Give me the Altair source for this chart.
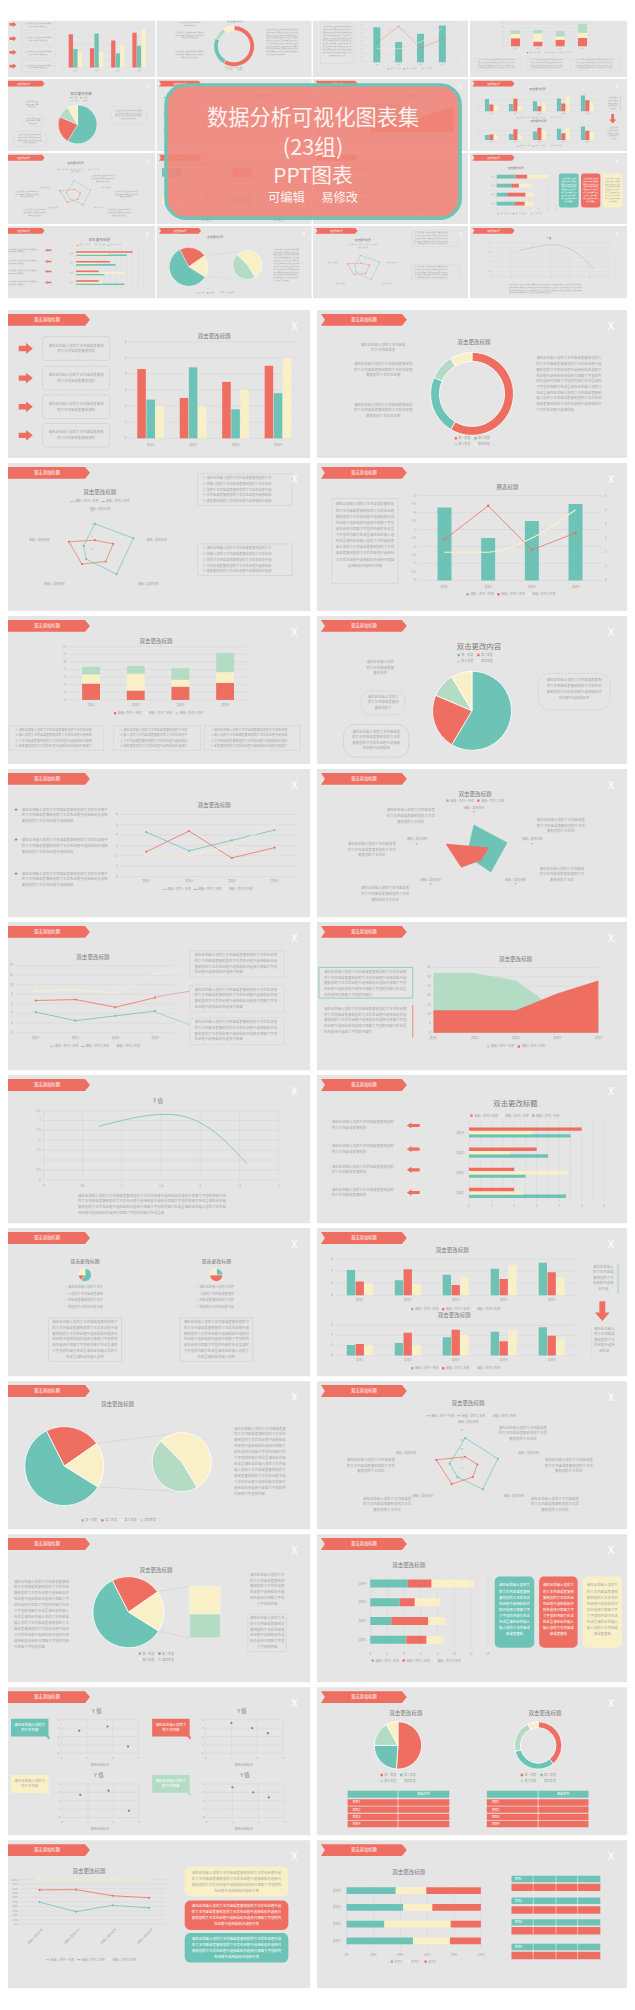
import json
import math

import altair as alt
import pandas as pd

# ---------------- data ----------------
SERIES = ["系列1", "系列2", "系列3"]
LEGEND = ["请输入系列一名称", "请输入系列二名称", "请输入系列三名称"]
CATS4 = ["类别1", "类别2", "类别3", "类别4"]
CATS5 = ["类别1", "类别2", "类别3", "类别4", "类别5"]
S1 = [4.3, 2.5, 3.5, 4.5]
S2 = [2.4, 4.4, 1.8, 2.8]
S3 = [2.0, 2.0, 3.0, 5.0]
QUARTERS = ["第一季度", "第二季度", "第三季度", "第四季度"]
PIE_V = [8.2, 3.2, 1.4, 1.2]
OTHER = "其他"
AREA_1 = [32, 32, 28, 12, 15]
AREA_2 = [12, 12, 12, 21, 28]
SC_X = [0.7, 1.8, 2.6]
SC_Y = [2.7, 3.2, 0.8]
SC2_X = [1.0, 1.8, 2.4]
SC2_Y = [3.6, 3.0, 2.4]
RADAR_AX = ["类别1", "类别2", "类别3", "类别4", "类别5"]
RADAR_A1 = [4.0, 5.5, 5.0, 2.0, 1.6]
RADAR_A2 = [1.4, 2.6, 2.5, 3.0, 3.7]
RADAR_B1 = [4.0, 4.5, 3.7, 1.0, 0.8]
RADAR_B2 = [0.8, 2.0, 1.5, 2.8, 3.8]
RADAR_C1 = [32, 32, 28, 12, 15]
RADAR_C2 = [12, 12, 12, 21, 28]
RADAR_C3 = [18, 24, 20, 30, 20]
DB1 = [[4.2, 2.5, 3.4, 4.4, 5.4], [2.3, 4.3, 1.7, 2.7, 3.8], [2.0, 1.9, 3.0, 5.0, 3.0]]
DB2 = [[2.1, 2.5, 3.6, 4.7, 5.6], [2.3, 4.5, 5.1, 2.8, 3.9], [2.1, 2.1, 4.1, 5.0, 3.2]]
MINI_LBL = ["部分A", "部分B", "部分C"]
MINI1 = [61, 14, 25]
MINI2 = [25, 50, 25]
PIE20 = [51, 24, 17, 8]
DONUT20 = [39, 32, 22, 7]
ROWS_TBL = ["项目1", "项目2", "项目3", "项目4"]

# ---------------- styles ----------------
FONT = "Noto Sans CJK SC"
TEAL = "#6dc3b6"
SALMON = "#ee6e62"
CREAM = "#faf0c8"
MINT = "#b4dcc4"
BG = "#e5e5e5"
TXT = "#a8a8a8"
DARK = "#7a7a7a"
GRID = "#d5d5d5"
WHITE = "#ffffff"
PH = "请在此处输入您的文本内容或者复制您的文本后在此框中选择粘贴并选择只保留文字您的内容打在这里"

RIB = "M-7.25,-1L6.42,-1L7.25,0L6.42,1L-7.25,1L-6.58,0Z"
ARROW_R = "M-1.3,-0.5L0.05,-0.5L0.05,-1L1.3,0L0.05,1L0.05,0.5L-1.3,0.5Z"
ARROW_L = "M2.1,-0.5L-0.6,-0.5L-0.6,-1L-2.1,0L-0.6,1L-0.6,0.5L2.1,0.5Z"
ARROW_D = "M-0.3,-1L0.3,-1L0.3,0.15L0.75,0.15L0,1L-0.75,0.15L-0.3,0.15Z"
TRI = "M-1,-1L1,-1L1,1Z"


def js(a):
    return json.dumps(a, ensure_ascii=False)


def fmt(v):
    return "%g" % v


def frange(a, b, s):
    n = int(round((b - a) / s))
    return [round(a + i * s, 6) for i in range(n + 1)]


class Frame:
    def __init__(self, ox, oy, sx=1.0, sy=1.0):
        self.ox, self.oy, self.sx, self.sy = ox, oy, sx, sy
        self.k = (sx + sy) / 2

    def X(self, x):
        return self.ox + x * self.sx

    def Y(self, y):
        return self.oy + y * self.sy


def lin(dom, a, b):
    return alt.Scale(domain=list(dom), range=[a, b], zero=False, nice=False)


def SX(f):
    return lin([0, 314], f.X(0), f.X(314))


def SY(f):
    return lin([0, 150], f.Y(0), f.Y(150))


def _groups(items):
    g = {}
    for it in items:
        g.setdefault(it["key"], []).append({k: v for k, v in it.items() if k != "key"})
    return g


class B:
    def __init__(self, f):
        self.f = f
        self.rects, self.rules, self.syms, self.txt, self.data = [], [], [], [], []

    def rect(self, x, y, x2, y2, fill="transparent", stroke="transparent", sw=0.5, dash=None, cr=0, op=1.0):
        self.rects.append(dict(x=x, y=y, x2=x2, y2=y2, fill=fill, stroke=stroke,
                               key=(cr, tuple(dash) if dash else (), sw, op)))

    def rule(self, x, y, x2, y2, col=GRID, sw=0.5, dash=None):
        self.rules.append(dict(x=x, y=y, x2=x2, y2=y2, col=col, key=(sw, tuple(dash) if dash else ())))

    def sym(self, x, y, shape, r, col):
        self.syms.append(dict(x=x, y=y, sz=(2 * r * self.f.k) ** 2, col=col, key=shape))

    def text(self, x, y, t, fs=3.6, col=TXT, align="left", weight="normal", angle=0):
        self.txt.append(dict(x=x, y=y, t=t, fs=fs * self.f.k, col=col, key=(align, weight, angle)))

    def build(self):
        f = self.f
        out = []
        xs, ys = SX(f), SY(f)
        for (cr, dash, sw, op), rs in _groups(self.rects).items():
            kw = dict(strokeWidth=sw * f.k, clip=True, fillOpacity=op)
            if cr:
                kw["cornerRadius"] = cr * f.k
            if dash:
                kw["strokeDash"] = [d * f.k for d in dash]
            out.append(alt.Chart(pd.DataFrame(rs)).mark_rect(**kw).encode(
                x=alt.X("x:Q", scale=xs, axis=None), x2="x2:Q",
                y=alt.Y("y:Q", scale=ys, axis=None), y2="y2:Q",
                fill=alt.Fill("fill:N", scale=None), stroke=alt.Stroke("stroke:N", scale=None)))
        for (sw, dash), rs in _groups(self.rules).items():
            kw = dict(strokeWidth=sw * f.k, clip=True)
            if dash:
                kw["strokeDash"] = [d * f.k for d in dash]
            out.append(alt.Chart(pd.DataFrame(rs)).mark_rule(**kw).encode(
                x=alt.X("x:Q", scale=xs, axis=None), x2="x2:Q",
                y=alt.Y("y:Q", scale=ys, axis=None), y2="y2:Q",
                color=alt.Color("col:N", scale=None)))
        out += self.data
        for shape, rs in _groups(self.syms).items():
            out.append(alt.Chart(pd.DataFrame(rs)).mark_point(
                shape=shape, filled=True, opacity=1, strokeWidth=0, clip=True).encode(
                x=alt.X("x:Q", scale=xs, axis=None), y=alt.Y("y:Q", scale=ys, axis=None),
                size=alt.Size("sz:Q", scale=None), color=alt.Color("col:N", scale=None)))
        for (align, weight, angle), rs in _groups(self.txt).items():
            kw = dict(align=align, baseline="middle", font=FONT, fontWeight=weight, clip=True)
            if angle:
                kw["angle"] = angle
            out.append(alt.Chart(pd.DataFrame(rs)).mark_text(**kw).encode(
                x=alt.X("x:Q", scale=xs, axis=None), y=alt.Y("y:Q", scale=ys, axis=None),
                text="t:N", size=alt.Size("fs:Q", scale=None), color=alt.Color("col:N", scale=None)))
        return out


# ---------------- chart helpers (pixel ranges inside a slide) ----------------
def hgrid(f, ticks, dom, x0, x1, yb, yt, col=GRID, sw=0.5):
    return alt.Chart(pd.DataFrame({"v": ticks})).mark_rule(color=col, strokeWidth=sw * f.k, clip=True).encode(
        y=alt.Y("v:Q", scale=lin(dom, f.Y(yb), f.Y(yt)), axis=None),
        x=alt.value(f.X(x0)), x2=alt.value(f.X(x1)))


def vgrid(f, ticks, dom, xl, xr, ya, yb, col=GRID, sw=0.5):
    return alt.Chart(pd.DataFrame({"v": ticks})).mark_rule(color=col, strokeWidth=sw * f.k, clip=True).encode(
        x=alt.X("v:Q", scale=lin(dom, f.X(xl), f.X(xr)), axis=None),
        y=alt.value(f.Y(ya)), y2=alt.value(f.Y(yb)))


def ylabels(f, ticks, labels, dom, x, yb, yt, fs=3.0, align="right"):
    return alt.Chart(pd.DataFrame({"v": ticks, "t": labels})).mark_text(
        align=align, baseline="middle", fontSize=fs * f.k, color=TXT, font=FONT, clip=True).encode(
        y=alt.Y("v:Q", scale=lin(dom, f.Y(yb), f.Y(yt)), axis=None), x=alt.value(f.X(x)), text="t:N")


def xlabels(f, ticks, labels, dom, xl, xr, y, fs=3.0):
    return alt.Chart(pd.DataFrame({"v": ticks, "t": labels})).mark_text(
        align="center", baseline="middle", fontSize=fs * f.k, color=TXT, font=FONT, clip=True).encode(
        x=alt.X("v:Q", scale=lin(dom, f.X(xl), f.X(xr)), axis=None), y=alt.value(f.Y(y)), text="t:N")


def band_text(f, cats, x0, x1, pi, po, y, fs=3.1):
    return alt.Chart(pd.DataFrame({"cat": cats})).mark_text(
        align="center", baseline="middle", fontSize=fs * f.k, color=TXT, font=FONT, clip=True).encode(
        x=alt.X("cat:N", scale=alt.Scale(domain=cats, range=[f.X(x0), f.X(x1)], paddingInner=pi, paddingOuter=po),
                bandPosition=0.5, axis=None),
        y=alt.value(f.Y(y)), text="cat:N")


def band_text_y(f, dom, y0, y1, pi, po, x, align="right", fs=3.1):
    return alt.Chart(pd.DataFrame({"cat": dom})).mark_text(
        align=align, baseline="middle", fontSize=fs * f.k, color=TXT, font=FONT, clip=True).encode(
        y=alt.Y("cat:N", scale=alt.Scale(domain=dom, range=[f.Y(y0), f.Y(y1)], paddingInner=pi, paddingOuter=po),
                bandPosition=0.5, axis=None),
        x=alt.value(f.X(x)), text="cat:N")


def pt_text(f, cats, labels, xa, xb, y, fs=3.1, align="center", angle=0):
    kw = dict(align=align, baseline="middle", fontSize=fs * f.k, color=TXT, font=FONT, clip=True)
    if angle:
        kw["angle"] = angle
    return alt.Chart(pd.DataFrame({"cat": cats, "t": labels})).mark_text(**kw).encode(
        x=alt.X("cat:N", scale=alt.Scale(type="point", domain=cats, range=[f.X(xa), f.X(xb)], padding=0), axis=None),
        y=alt.value(f.Y(y)), text="t:N")


SORDER = f"indexof({json.dumps(SERIES, ensure_ascii=False)}, datum.s)"


def vbars(f, cats, vals_list, colors, x0, x1, pi, po, yb, yt, dom, series=None, stack=None, off_pi=0.06):
    series = series or SERIES[:len(vals_list)]
    rows = [dict(cat=c, s=s, v=v) for s, vals in zip(series, vals_list) for c, v in zip(cats, vals)]
    enc = dict(
        x=alt.X("cat:N", scale=alt.Scale(domain=cats, range=[f.X(x0), f.X(x1)], paddingInner=pi, paddingOuter=po),
                axis=None),
        y=alt.Y("v:Q", scale=lin(dom, f.Y(yb), f.Y(yt)), axis=None, stack=stack),
        color=alt.Color("s:N", scale=alt.Scale(domain=series, range=colors), legend=None),
        order=alt.Order("o:Q"))
    if stack is None and len(series) > 1:
        enc["xOffset"] = alt.XOffset("s:N", scale=alt.Scale(domain=series, paddingInner=off_pi))
    return alt.Chart(pd.DataFrame(rows)).transform_calculate(o=SORDER).mark_bar(clip=True).encode(**enc)


def hbars(f, cats, dom_cats, vals_list, colors, y0, y1, pi, po, x0, x1, dom, stack=None, off_dom=None, off_pi=0.0):
    series = SERIES[:len(vals_list)]
    rows = [dict(cat=c, s=s, v=v) for s, vals in zip(series, vals_list) for c, v in zip(cats, vals)]
    enc = dict(
        y=alt.Y("cat:N", scale=alt.Scale(domain=dom_cats, range=[f.Y(y0), f.Y(y1)], paddingInner=pi,
                                         paddingOuter=po), axis=None),
        x=alt.X("v:Q", scale=lin(dom, f.X(x0), f.X(x1)), axis=None, stack=stack),
        color=alt.Color("s:N", scale=alt.Scale(domain=series, range=colors), legend=None),
        order=alt.Order("o:Q"))
    if off_dom:
        enc["yOffset"] = alt.YOffset("s:N", scale=alt.Scale(domain=off_dom, paddingInner=off_pi))
    return alt.Chart(pd.DataFrame(rows)).transform_calculate(o=SORDER).mark_bar(clip=True).encode(**enc)


def lines(f, cats, vals_list, colors, xa, xb, yb, yt, dom, series=None, stack=None, interp="linear", sw=0.8, pt=3.0):
    series = series or SERIES[:len(vals_list)]
    rows = [dict(cat=c, s=s, v=v) for s, vals in zip(series, vals_list) for c, v in zip(cats, vals)]
    kw = dict(strokeWidth=sw * f.k, interpolate=interp, clip=True)
    if pt:
        kw["point"] = alt.OverlayMarkDef(filled=True, size=(pt * f.k) ** 2, opacity=1)
    enc = dict(
        x=alt.X("cat:N", scale=alt.Scale(type="point", domain=cats, range=[f.X(xa), f.X(xb)], padding=0), axis=None),
        color=alt.Color("s:N", scale=alt.Scale(domain=series, range=colors), legend=None))
    if stack:
        enc["y"] = alt.Y("v:Q", scale=lin(dom, f.Y(yb), f.Y(yt)), axis=None, stack=stack)
        enc["order"] = alt.Order("o:Q")
    else:
        enc["y"] = alt.Y("v:Q", scale=lin(dom, f.Y(yb), f.Y(yt)), axis=None)
    return alt.Chart(pd.DataFrame(rows)).transform_calculate(o=SORDER).mark_line(**kw).encode(**enc)


def area(f, cats, vals, col, xa, xb, yb, yt, dom):
    return alt.Chart(pd.DataFrame({"cat": cats, "v": vals})).mark_area(color=col, opacity=1, clip=True).encode(
        x=alt.X("cat:N", scale=alt.Scale(type="point", domain=cats, range=[f.X(xa), f.X(xb)], padding=0), axis=None),
        y=alt.Y("v:Q", scale=lin(dom, f.Y(yb), f.Y(yt)), axis=None))


def pie(f, cx, cy, r, vals, labels, colors, inner=0, start_deg=0, sw=0.8):
    a0 = math.radians(start_deg)
    kw = dict(outerRadius=r * f.k, stroke=WHITE, strokeWidth=sw * f.k, clip=True)
    if inner:
        kw["innerRadius"] = inner * f.k
    return alt.Chart(pd.DataFrame({"lab": labels, "v": vals})).transform_calculate(
        o=f"indexof({js(labels)}, datum.lab)"
    ).mark_arc(**kw).encode(
        theta=alt.Theta("v:Q", stack=True, scale=alt.Scale(range=[a0, a0 + 2 * math.pi])),
        color=alt.Color("lab:N", scale=alt.Scale(domain=labels, range=colors), legend=None),
        order=alt.Order("o:Q"),
        x=alt.value(f.X(cx)), y=alt.value(f.Y(cy)))


def radar(f, cx, cy, R, hs, vmax, axes, vals, col, fill=None, sw=0.7, points=False):
    n = len(axes)
    base = (alt.Chart(pd.DataFrame({"axis": axes, "v": vals}))
            .transform_calculate(i=f"indexof({js(axes)}, datum.axis)")
            .transform_calculate(a=f"datum.i * 2 * PI / {n}")
            .transform_calculate(px="datum.v * sin(datum.a)")
            .transform_calculate(py="datum.v * cos(datum.a)"))
    xsc = lin([-vmax, vmax], f.X(cx) - R * hs * f.sx, f.X(cx) + R * hs * f.sx)
    ysc = lin([-vmax, vmax], f.Y(cy) + R * f.sy, f.Y(cy) - R * f.sy)
    kw = dict(interpolate="linear-closed", color=col, strokeWidth=sw * f.k, clip=True)
    if fill:
        kw["fill"] = fill
    out = [base.mark_line(**kw).encode(
        x=alt.X("px:Q", scale=xsc, axis=None), y=alt.Y("py:Q", scale=ysc, axis=None), order=alt.Order("i:Q"))]
    if points:
        out.append(base.mark_circle(color=col, size=(2.2 * f.k) ** 2, opacity=1, clip=True).encode(
            x=alt.X("px:Q", scale=xsc, axis=None), y=alt.Y("py:Q", scale=ysc, axis=None)))
    return out


def scatter(f, xs, ys, x0, x1, yb, yt, xdom, ydom, col="#7d7d7d", d=2.2):
    return alt.Chart(pd.DataFrame({"x": xs, "y": ys})).mark_circle(
        color=col, size=(d * f.k) ** 2, opacity=1, clip=True).encode(
        x=alt.X("x:Q", scale=lin(xdom, f.X(x0), f.X(x1)), axis=None),
        y=alt.Y("y:Q", scale=lin(ydom, f.Y(yb), f.Y(yt)), axis=None))


def curve(f, xs, ys, x0, x1, yb, yt, xdom, ydom, col=TEAL, sw=0.8):
    return alt.Chart(pd.DataFrame({"x": xs, "y": ys})).mark_line(
        color=col, strokeWidth=sw * f.k, interpolate="natural", clip=True).encode(
        x=alt.X("x:Q", scale=lin(xdom, f.X(x0), f.X(x1)), axis=None),
        y=alt.Y("y:Q", scale=lin(ydom, f.Y(yb), f.Y(yt)), axis=None))


# ---------------- text helpers ----------------
def para(b, x, y, w, n, lh=5.6, fs=3.5, col=TXT, align="left", last=0.6):
    per = max(2, int(w / fs))
    src = PH * 8
    for j in range(n):
        k = per if (j < n - 1 or n == 1) else max(2, int(per * last))
        st = (j * 7) % len(PH)
        b.text(x, y + j * lh, src[st:st + k], fs, col, align)


def legend(b, cx, y, items, fs=3.0, gap=4.5, kind="sq"):
    ws = [4.0 + len(lab) * fs * 0.95 for _, lab in items]
    total = sum(ws) + gap * (len(items) - 1)
    x = cx - total / 2
    for (col, lab), w in zip(items, ws):
        if kind == "sq":
            b.rect(x, y - 1.2, x + 2.4, y + 1.2, fill=col)
        else:
            b.rule(x - 0.6, y, x + 3.0, y, col, 0.7)
        b.text(x + 3.8, y, lab, fs, TXT)
        x += w + gap


def common(b):
    b.sym(47.5, 10, RIB, 6, SALMON)
    b.text(47.5, 10.3, "双击添加标题", 4.4, WHITE, "center")
    b.text(298, 17.5, "X", 11, WHITE, "center")


def title(b, x, y, t="双击更改标题", fs=5.6):
    b.text(x, y, t, fs, DARK, "center")


# ---------------- slides ----------------
def s1(b):
    f = b.f
    common(b)
    for yc in (39, 69, 98, 127):
        b.sym(26, yc, ARROW_R, 5.5, SALMON)
        b.rect(43, yc - 12, 111, yc + 12, stroke="#b0b0b0", sw=0.5, dash=[1.2, 1], cr=3)
        para(b, 77, yc - 3, 56, 2, lh=6, align="center", last=0.7)
    title(b, 217, 26)
    T = frange(0, 6, 1)
    b.data.append(hgrid(f, T, [0, 6], 130, 302, 130, 32))
    b.data.append(ylabels(f, T, [fmt(t) for t in T], [0, 6], 128, 130, 32))
    b.data.append(vbars(f, CATS4, [S1, S2, S3], [SALMON, TEAL, CREAM], 131, 303, 0.37, 0.185, 130, 32, [0, 6]))
    b.data.append(band_text(f, CATS4, 131, 303, 0.37, 0.185, 137))


def s2(b):
    f = b.f
    common(b)
    title(b, 159, 32)
    b.data.append(pie(f, 157, 85, 42, PIE_V, QUARTERS, [SALMON, TEAL, MINT, CREAM], inner=33))
    para(b, 67, 35, 48, 2, align="center")
    para(b, 67, 55, 62, 3, align="center")
    para(b, 67, 96, 62, 3, align="center")
    para(b, 222, 49, 68, 10, lh=5.8)
    legend(b, 157, 130, [(SALMON, QUARTERS[0]), (TEAL, QUARTERS[1])])
    legend(b, 157, 136, [(MINT, QUARTERS[2]), (CREAM, QUARTERS[3])])


def s3(b):
    f = b.f
    common(b)
    title(b, 101, 29)
    legend(b, 101, 39, [(TEAL, LEGEND[0]), (SALMON, LEGEND[1])], kind="line")
    b.data += radar(f, 96, 87, 38, 1.18, 6, RADAR_AX, RADAR_A1, TEAL, points=True)
    b.data += radar(f, 96, 87, 38, 1.18, 6, RADAR_AX, RADAR_A2, SALMON, points=True)
    for x, y, al in ((101, 47, "center"), (148, 78, "left"), (150, 123, "center"), (55, 123, "center"),
                     (50, 78, "right")):
        b.text(x, y, "请输入类别名称", 3.0, TXT, al)
    for v in (0, 2, 4, 6):
        b.text(94, 87 - v / 6 * 38, fmt(v), 2.8, TXT, "right")
    for y0 in (11, 82):
        b.rect(200, y0, 296, y0 + 32, stroke="#c9c9c9", sw=0.5)
        for j, m in enumerate("①②③④⑤"):
            b.text(205, y0 + 4.5 + j * 5.8, m + " " + PH[j * 3:j * 3 + 20], 3.3, TXT)


def s4(b):
    f = b.f
    common(b)
    title(b, 193, 24, "图表标题")
    b.rect(15, 36, 82, 122, stroke="#c9c9c9", sw=0.5)
    para(b, 48.5, 42, 60, 11, lh=6.2, align="center")
    T = frange(0, 5, 1)
    b.data.append(hgrid(f, T, [0, 5], 102, 289, 119, 33))
    TL = frange(0, 5, 0.5)
    b.data.append(ylabels(f, TL, [fmt(t) for t in TL], [0, 5], 100, 119, 33))
    TR = frange(0, 6, 1)
    b.data.append(ylabels(f, TR, [fmt(t) for t in TR], [0, 6], 291.5, 119, 33, align="left"))
    b.data.append(vbars(f, CATS4, [S1], [TEAL], 107, 284, 0.68, 0.34, 119, 33, [0, 5], series=[SERIES[0]]))
    b.data.append(lines(f, CATS4, [S2], [SALMON], 129, 262, 119, 33, [0, 5], series=[SERIES[1]], pt=2.6))
    b.data.append(lines(f, CATS4, [S3], [CREAM], 129, 262, 119, 33, [0, 6], series=[SERIES[2]],
                        interp="monotone", pt=0, sw=1.1))
    b.data.append(band_text(f, CATS4, 107, 284, 0.68, 0.34, 125.5))
    legend(b, 196, 133, [(TEAL, LEGEND[0]), (SALMON, LEGEND[1]), (CREAM, LEGEND[2])])


def s5(b):
    f = b.f
    common(b)
    title(b, 158, 25)
    T = frange(0, 14, 2)
    b.data.append(hgrid(f, T, [0, 14], 69, 250, 85, 31))
    b.data.append(ylabels(f, T, [fmt(t) for t in T], [0, 14], 67, 85, 31))
    b.data.append(vbars(f, CATS4, [S1, S2, S3], [SALMON, CREAM, MINT], 69.5, 250.5, 0.6, 0.3, 85, 31, [0, 14],
                        stack="zero"))
    b.data.append(band_text(f, CATS4, 69.5, 250.5, 0.6, 0.3, 90.5))
    legend(b, 160, 98.5, [(SALMON, LEGEND[0]), (CREAM, LEGEND[1]), (MINT, LEGEND[2])])
    for x0, x1 in ((9, 105), (115, 203), (207, 304)):
        b.rect(x0, 111, x1, 136, stroke="#cfcfcf", sw=0.5)
        for j, m in enumerate("①②③④"):
            b.text(x0 + 6, 115 + j * 5.6, m + " " + PH[j * 4:j * 4 + int((x1 - x0 - 16) / 3.3)], 3.1, TXT)


def s6(b):
    f = b.f
    common(b)
    title(b, 164, 31, "双击更改内容", 7.5)
    legend(b, 160, 39.5, [(TEAL, QUARTERS[0]), (SALMON, QUARTERS[1])])
    legend(b, 160, 46, [(MINT, QUARTERS[2]), (CREAM, QUARTERS[3])])
    b.data.append(pie(f, 157, 96, 40, PIE_V, QUARTERS, [TEAL, SALMON, MINT, CREAM], sw=0.8))
    b.rect(45, 76, 89, 100, stroke="#b9b9b9", sw=0.5, dash=[1, 0.8], cr=9)
    para(b, 67, 82, 34, 3, lh=5.6, align="center")
    b.rect(27, 110, 93, 143, stroke="#e0948b", sw=0.5, dash=[1, 0.8], cr=12)
    para(b, 60, 117, 50, 4, lh=5.6, align="center")
    b.rect(224, 58, 297, 95, stroke="#b9b9b9", sw=0.5, dash=[1, 0.8], cr=12)
    para(b, 260.5, 65, 56, 4, lh=6, align="center")
    para(b, 64, 47, 30, 3, lh=5.5, align="center")


def s7(b):
    f = b.f
    common(b)
    for yy in (41, 72, 106):
        b.text(16, yy, "◆", 3.0, "#8a8a8a", "center")
        para(b, 22, yy, 90, 3, lh=5.8)
    title(b, 217, 36)
    T = frange(0, 6, 1)
    b.data.append(hgrid(f, T, [0, 6], 121, 300, 109, 46))
    b.data.append(ylabels(f, T, [fmt(t) for t in T], [0, 6], 119, 109, 46))
    b.data.append(lines(f, CATS4, [S1, S2, S3], [TEAL, SALMON, CREAM], 148, 278, 109, 46, [0, 6], pt=2.2))
    b.data.append(pt_text(f, CATS4, CATS4, 148, 278, 113.5))
    legend(b, 210, 122, [(TEAL, LEGEND[0]), (SALMON, LEGEND[1]), (CREAM, LEGEND[2])], kind="line")


def s8(b):
    f = b.f
    common(b)
    title(b, 160, 25)
    legend(b, 160, 32, [(TEAL, LEGEND[0]), (SALMON, LEGEND[1])])
    b.data += radar(f, 159, 84, 34, 1.15, 5, RADAR_AX, RADAR_B1, TEAL, fill=TEAL)
    b.data += radar(f, 159, 84, 34, 1.15, 5, RADAR_AX, RADAR_B2, SALMON, fill=SALMON)
    for x, y in ((159, 39), (218, 71), (201, 112), (115, 112), (101, 71)):
        b.text(x, y, "请输入类别名称", 3.0, TXT, "center")
        b.text(x, y + 4.5, "■", 1.8, "#b0b0b0", "center")
    para(b, 95, 42, 50, 3, align="center")
    para(b, 55.5, 76, 50, 3, align="center")
    para(b, 69, 121, 50, 3, align="center")
    para(b, 247, 52, 50, 3, align="center")
    para(b, 248, 101, 48, 3, align="center")


def s9(b):
    f = b.f
    common(b)
    title(b, 94, 35)
    T = frange(0, 14, 2)
    b.data.append(hgrid(f, T, [0, 14], 16, 176, 112, 44))
    b.data.append(ylabels(f, T, [fmt(t) for t in T], [0, 14], 13, 112, 44))
    b.data.append(lines(f, CATS4, [S1, S2, S3], [TEAL, SALMON, CREAM], 36, 157, 112, 44, [0, 14],
                        stack="zero", pt=2.2))
    b.rule(157, 53, 192, 46, CREAM, 0.5)
    b.rule(157, 76, 192, 70, SALMON, 0.5)
    b.rule(157, 91, 192, 104, TEAL, 0.5)
    b.data.append(pt_text(f, CATS4, CATS4, 36, 157, 117))
    legend(b, 96, 126, [(TEAL, LEGEND[0]), (SALMON, LEGEND[1]), (CREAM, LEGEND[2])], kind="line")
    for y0 in (29, 64, 97):
        b.rect(192, y0, 288, y0 + 27, stroke="#d0d0d0", sw=0.5)
        para(b, 197, y0 + 4.5, 86, 4, lh=5.8)


def s10(b):
    f = b.f
    common(b)
    title(b, 201, 37)
    b.rect(2, 46, 97, 77, stroke=TEAL, sw=0.7)
    para(b, 7, 51, 86, 5, lh=5.6)
    b.rule(97, 84, 97, 117, SALMON, 0.8)
    para(b, 7, 88, 86, 5, lh=5.8)
    T = frange(0, 35, 5)
    b.data.append(hgrid(f, T, [0, 35], 118, 285, 112, 46))
    b.data.append(ylabels(f, T, [fmt(t) for t in T], [0, 35], 115, 112, 46))
    b.data.append(area(f, CATS5, AREA_1, MINT, 118, 285, 112, 46, [0, 35]))
    b.data.append(area(f, CATS5, AREA_2, SALMON, 118, 285, 112, 46, [0, 35]))
    b.data.append(pt_text(f, CATS5, CATS5, 118, 285, 117))
    legend(b, 201, 126, [(MINT, LEGEND[0]), (SALMON, LEGEND[1])])


def s11(b):
    f = b.f
    common(b)
    title(b, 160, 26, "Y 值")
    XT = frange(0, 3, 0.5)
    YT = frange(0, 3.5, 0.5)
    b.data.append(vgrid(f, XT, [0, 3], 44, 282, 36, 106))
    b.data.append(hgrid(f, YT, [0, 3.5], 44, 282, 106, 36))
    b.data.append(ylabels(f, YT, [fmt(t) for t in YT], [0, 3.5], 41, 106, 36))
    b.data.append(xlabels(f, XT, [fmt(t) for t in XT], [0, 3], 44, 282, 112))
    b.data.append(curve(f, SC_X, SC_Y, 44, 282, 106, 36, [0, 3], [0, 3.5]))
    para(b, 79, 122, 152, 4, lh=6)


def s12(b):
    f = b.f
    common(b)
    title(b, 201, 29, "双击更改标题", 7.5)
    legend(b, 200, 41, [(SALMON, LEGEND[2]), (CREAM, LEGEND[1]), (TEAL, LEGEND[0])])
    XT = frange(0, 6, 1)
    b.data.append(vgrid(f, frange(0, 6, 0.5), [0, 6], 154, 291, 47, 129))
    b.data.append(xlabels(f, XT, [fmt(t) for t in XT], [0, 6], 154, 291, 133))
    rev = CATS4[::-1]
    b.data.append(hbars(f, CATS4, rev, [S1, S2, S3], [TEAL, CREAM, SALMON], 48, 129.5, 0.5, 0.25, 154, 291,
                        [0, 6], off_dom=SERIES[::-1]))
    b.data.append(band_text_y(f, rev, 48, 129.5, 0.5, 0.25, 149))
    for yy in (51, 75, 96, 119):
        b.sym(97.5, yy, ARROW_L, 3.1, SALMON)
        para(b, 15, yy - 3, 66, 2, lh=5.6)


def s13(b):
    f = b.f
    common(b)
    for cx, vals in ((86, MINI1), (219, MINI2)):
        title(b, cx, 33, "双击更改标题", 5)
        b.data.append(pie(f, cx, 47.5, 6.5, vals, MINI_LBL, [TEAL, SALMON, CREAM], sw=0.4))
        for j in range(4):
            b.text(cx - 21, 60 + j * 6.5, "• " + PH[j * 5:j * 5 + 11], 3.2, TXT)
        b.rect(cx - 37, 91, cx + 37, 135, stroke="#c9c9c9", sw=0.5)
        para(b, cx, 95, 68, 7, lh=5.9, align="center")


def s14(b):
    f = b.f
    common(b)
    title(b, 137, 22)
    T = frange(0, 6, 2)
    b.data.append(hgrid(f, T, [0, 6], 19, 262, 68, 31.4))
    b.data.append(ylabels(f, T, [fmt(t) for t in T], [0, 6], 16, 68, 31.4))
    b.data.append(vbars(f, CATS5, DB1, [TEAL, SALMON, CREAM], 19, 262, 0.46, 0.23, 68, 31.4, [0, 6]))
    b.data.append(band_text(f, CATS5, 19, 262, 0.46, 0.23, 73))
    legend(b, 140, 82, [(TEAL, LEGEND[0]), (SALMON, LEGEND[1]), (CREAM, LEGEND[2])])
    title(b, 139, 88)
    b.data.append(hgrid(f, T, [0, 6], 19, 262, 129, 98.4))
    b.data.append(ylabels(f, T, [fmt(t) for t in T], [0, 6], 16, 129, 98.4))
    b.data.append(vbars(f, CATS5, DB2, [TEAL, SALMON, CREAM], 19, 262, 0.46, 0.23, 129, 98.4, [0, 6]))
    b.data.append(band_text(f, CATS5, 19, 262, 0.46, 0.23, 134))
    legend(b, 140, 142, [(TEAL, LEGEND[0]), (SALMON, LEGEND[1]), (CREAM, LEGEND[2])])
    b.rule(305, 36, 305, 66, TEAL, 0.6)
    para(b, 290, 39, 22, 5, lh=5.6, align="center")
    b.sym(289, 84, ARROW_D, 10, SALMON)
    b.rule(278, 99, 278, 129, "#bdbdbd", 0.5, dash=[1, 1])
    para(b, 291, 102, 22, 5, lh=5.6, align="center")


def s15(b):
    f = b.f
    common(b)
    title(b, 119, 23)
    b.rule(98, 63, 184, 52, "#b5b5b5", 0.5, dash=[1.5, 1])
    b.rule(99, 107, 184, 112, "#b5b5b5", 0.5, dash=[1.5, 1])
    b.data.append(pie(f, 65, 86, 40, [PIE_V[1], PIE_V[2] + PIE_V[3], PIE_V[0]], [QUARTERS[1], OTHER, QUARTERS[0]],
                      [SALMON, CREAM, TEAL], start_deg=-27))
    b.data.append(pie(f, 184, 82, 30, PIE_V[2:], QUARTERS[2:], [CREAM, MINT], start_deg=-45))
    para(b, 237, 48, 55, 12, lh=6)
    legend(b, 120, 141, [(TEAL, QUARTERS[0]), (SALMON, QUARTERS[1]), (CREAM, QUARTERS[2]), (MINT, QUARTERS[3])])


def s16(b):
    f = b.f
    common(b)
    title(b, 153, 22)
    legend(b, 156, 35, [(TEAL, LEGEND[0]), (SALMON, LEGEND[1]), (CREAM, LEGEND[2])], kind="line")
    b.data += radar(f, 150, 88, 38, 1.15, 40, RADAR_AX, RADAR_C3, "#efe3b5", sw=0.6)
    b.data += radar(f, 150, 88, 38, 1.15, 40, RADAR_AX, RADAR_C1, TEAL, points=True)
    b.data += radar(f, 150, 88, 38, 1.15, 40, RADAR_AX, RADAR_C2, SALMON, points=True)
    for x, y in ((153, 41), (214, 73), (199, 116), (107, 116), (90, 73)):
        b.text(x, y, "请输入类别名称", 3.0, TXT, "center")
    for v in (0, 10, 20, 30, 40):
        b.text(148, 88 - v / 40 * 38, fmt(v), 2.6, TXT, "right")
    para(b, 208.5, 47, 50, 3, align="center")
    para(b, 255, 80, 50, 3, align="center")
    para(b, 241, 119, 50, 3, align="center")
    para(b, 71, 119, 50, 3, align="center")
    para(b, 54.5, 80, 50, 3, align="center")


def s17(b):
    f = b.f
    common(b)
    title(b, 158, 36)
    para(b, 14, 48, 56, 12, lh=6)
    b.rule(159.5, 58, 192, 53, "#b5b5b5", 0.5, dash=[1.5, 1])
    b.rule(160.5, 98, 192, 105, "#b5b5b5", 0.5, dash=[1.5, 1])
    b.data.append(pie(f, 130, 79, 36, [PIE_V[1], PIE_V[2] + PIE_V[3], PIE_V[0]], [QUARTERS[1], OTHER, QUARTERS[0]],
                      [SALMON, CREAM, TEAL], start_deg=-27))
    lab2 = [QUARTERS[3], QUARTERS[2]]
    b.data.append(alt.Chart(pd.DataFrame({"lab": QUARTERS[2:], "v": PIE_V[2:]})).transform_calculate(
        o=f"indexof({js(lab2)}, datum.lab)", g="'g'"
    ).mark_bar(clip=True, stroke=WHITE, strokeWidth=0.3 * f.k).encode(
        x=alt.X("g:N", scale=alt.Scale(domain=["g"], range=[f.X(192), f.X(223)], paddingInner=0, paddingOuter=0),
                axis=None),
        y=alt.Y("v:Q", stack="zero", scale=lin([0, PIE_V[2] + PIE_V[3]], f.Y(105), f.Y(53)), axis=None),
        color=alt.Color("lab:N", scale=alt.Scale(domain=QUARTERS[2:], range=[CREAM, MINT]), legend=None),
        order=alt.Order("o:Q")))
    legend(b, 158, 121, [(TEAL, QUARTERS[0]), (SALMON, QUARTERS[1])])
    legend(b, 158, 127, [(CREAM, QUARTERS[2]), (MINT, QUARTERS[3])])
    para(b, 270.5, 41, 38, 6, lh=6, align="center")
    b.rect(251, 81, 290, 119, stroke="#cccccc", sw=0.5)
    para(b, 270.5, 85, 36, 6, lh=5.8, align="center")


def s18(b):
    f = b.f
    common(b)
    title(b, 93, 31)
    XT = frange(0, 14, 2)
    b.data.append(vgrid(f, XT, [0, 14], 54, 173, 42, 115))
    b.data.append(xlabels(f, XT, [fmt(t) for t in XT], [0, 14], 54, 173, 121))
    rev = CATS4[::-1]
    b.data.append(hbars(f, CATS4, rev, [S1, S2, S3], [TEAL, SALMON, CREAM], 40.5, 116.5, 0.58, 0.29, 54, 173,
                        [0, 14], stack="zero"))
    b.data.append(band_text_y(f, rev, 40.5, 116.5, 0.58, 0.29, 50))
    legend(b, 100, 128, [(TEAL, LEGEND[0]), (SALMON, LEGEND[1]), (CREAM, LEGEND[2])])
    for x0, x1, col, tc in ((180, 220, TEAL, WHITE), (225, 264, SALMON, WHITE), (269, 309, CREAM, TXT)):
        b.rect(x0, 43, x1, 115, fill=col, cr=5)
        para(b, (x0 + x1) / 2, 52, 32, 9, lh=6.2, col=tc, align="center")


def s19(b):
    f = b.f
    common(b)
    plots = ((62, 140, 67, 33, SC_X, SC_Y, (98, 24), (101, 79)),
             (208, 287, 67, 33, SC2_X, SC2_Y, (245, 24), (247, 79)),
             (63, 141, 132, 98, SC_X, SC_Y, (100, 89), (101, 144)),
             (209, 288, 132, 98, SC2_X, SC2_Y, (248, 89), (247, 144)))
    for x0, x1, yb, yt, xs, ys, tp, ap in plots:
        title(b, tp[0], tp[1], "Y 值", 5.5)
        b.data.append(vgrid(f, frange(0, 3, 1), [0, 3], x0, x1, yt, yb))
        b.data.append(hgrid(f, frange(0, 4, 1), [0, 4], x0, x1, yb, yt))
        YT = frange(0, 4, 1)
        b.data.append(ylabels(f, YT, [fmt(t) for t in YT], [0, 4], x0 - 2, yb, yt, fs=2.8))
        XT = frange(0, 3, 1)
        b.data.append(xlabels(f, XT, [fmt(t) for t in XT], [0, 3], x0, x1, yb + 5, fs=2.8))
        b.data.append(scatter(f, xs, ys, x0, x1, yb, yt, [0, 3], [0, 4]))
        b.text(ap[0], ap[1], "横坐标轴标题", 3.1, TXT, "center")
    for x0, y0, col, tc in ((11, 32, TEAL, WHITE), (154, 32, SALMON, WHITE), (11, 89, CREAM, TXT),
                            (154, 89, MINT, WHITE)):
        b.rect(x0, y0, x0 + 38, y0 + 18, fill=col)
        b.sym(x0 + 37, y0 + 19.6, TRI, 2.0, col)
        para(b, x0 + 19, y0 + 6, 32, 2, lh=5.5, col=tc, align="center")


def s20(b):
    f = b.f
    common(b)
    title(b, 90, 26)
    title(b, 231, 26)
    b.data.append(pie(f, 82, 59, 24, PIE20, QUARTERS, [SALMON, TEAL, MINT, CREAM]))
    b.data.append(pie(f, 224, 59, 24, DONUT20, QUARTERS, [SALMON, TEAL, MINT, CREAM], inner=18))
    for cx in (82, 224):
        legend(b, cx, 89, [(SALMON, QUARTERS[0]), (TEAL, QUARTERS[1])])
        legend(b, cx, 95, [(MINT, QUARTERS[2]), (CREAM, QUARTERS[3])])
    for x0, xm, x1 in ((31, 82, 134), (172, 224, 275)):
        b.rect(x0, 105, x1, 112, fill=TEAL)
        b.text((xm + x1) / 2, 108.5, "数据系列", 3.1, WHITE, "center")
        for j, lab in enumerate(ROWS_TBL):
            y0 = 113.5 + j * 7.3
            b.rect(x0, y0, x1, y0 + 6.5, fill=SALMON)
            b.text(x0 + 5, y0 + 3.25, lab, 3.1, WHITE)
        b.rule(xm, 105, xm, 143, WHITE, 0.6)


def s21(b):
    f = b.f
    common(b)
    title(b, 90, 31)
    T = frange(0, 1, 0.1)
    b.data.append(hgrid(f, T, [0, 1], 20, 168, 85, 40))
    b.data.append(ylabels(f, T, ["%d%%" % round(t * 100) for t in T], [0, 1], 18, 85, 40, fs=2.7))
    b.data.append(lines(f, CATS4, [S1, S2, S3], [TEAL, SALMON, CREAM], 40, 151, 85, 40, [0, 1],
                        stack="normalize", pt=2.2))
    b.data.append(pt_text(f, CATS4, ["请输入类别名称" for _ in CATS4], 43, 154, 90, fs=3.0, align="right",
                          angle=315))
    legend(b, 92, 121, [(TEAL, LEGEND[0]), (SALMON, LEGEND[1]), (CREAM, LEGEND[2])], kind="line")
    for y0, col, tc in ((27, CREAM, TXT), (61, SALMON, WHITE), (94, TEAL, WHITE)):
        b.rect(187, y0, 292, y0 + 30, fill=col, cr=6)
        para(b, 239.5, y0 + 6, 94, 4, lh=6, col=tc, align="center", last=0.5)


def s22(b):
    f = b.f
    common(b)
    title(b, 93, 32)
    XT = frange(0, 1, 0.2)
    b.data.append(vgrid(f, XT, [0, 1], 30, 166, 45, 110))
    b.data.append(xlabels(f, XT, ["%d%%" % round(t * 100) for t in XT], [0, 1], 30, 166, 116))
    rev = CATS4[::-1]
    b.data.append(hbars(f, CATS4, rev, [S1, S2, S3], [TEAL, CREAM, SALMON], 42.5, 110.5, 0.59, 0.3, 30, 166,
                        [0, 1], stack="normalize"))
    b.data.append(band_text_y(f, rev, 42.5, 110.5, 0.59, 0.3, 20, align="center"))
    legend(b, 98, 123, [(TEAL, SERIES[0]), (CREAM, SERIES[1]), (SALMON, SERIES[2])])
    for j, (ty, sy) in enumerate(((36, 44), (58, 67), (80, 88), (105, 113))):
        b.rect(197, ty, 287, ty + 6.5, fill=TEAL)
        b.rect(197, sy, 287, sy + 7.5, fill=SALMON)
        b.text(200, ty + 3.25, ROWS_TBL[j], 3.0, WHITE)
        for xv in (219, 242, 264):
            b.rule(xv, ty, xv, sy + 7.5, WHITE, 0.5)


SLIDES = [s1, s2, s3, s4, s5, s6, s7, s8, s9, s10, s11, s12, s13, s14, s15, s16, s17, s18, s19, s20, s21, s22]

RES = dict(x="independent", y="independent", color="independent", theta="independent",
           xOffset="independent", yOffset="independent")


def slide_chart(fn, left):
    b = B(Frame(-8 if left else 0, 0))
    fn(b)
    return alt.layer(*b.build()).resolve_scale(**RES).properties(width=306 if left else 314, height=150)


# ---------------- collage on top ----------------
COLS = [(0, 157), (158.5, 315.5), (317, 474), (476, 635)]
ROWS = [(0, 65), (67, 140), (142, 214), (216, 289)]
ROW_OY = [-7, 67, 142, 216]
THUMBS = [[s1, s2, s4, s5], [s6, s7, s10, s14], [s16, s19, s9, s18], [s12, s15, s3, s11]]

cb = B(Frame(-8, -8))
for r in range(4):
    for c in range(4):
        cb.rect(COLS[c][0], ROWS[r][0], COLS[c][1], ROWS[r][1], fill=BG)
clayers = cb.build()
for r in range(4):
    for c in range(4):
        tb = B(Frame(COLS[c][0] - 8, ROW_OY[r] - 8, 0.5, 0.48))
        THUMBS[r][c](tb)
        clayers += tb.build()
ob = B(Frame(-8, -8))
ob.rect(168, 73, 466, 208, fill="#ef8479", stroke="#6cc5b4", sw=3.5, cr=20, op=0.9)
TC = "#fff2f0"
ob.text(317, 108, "数据分析可视化图表集", 21.5, TC, "center")
ob.text(317, 137, "(23组)", 22, TC, "center")
ob.text(317, 166, "PPT图表", 21, TC, "center")
ob.text(290, 187.5, "可编辑", 12.5, TC, "center")
ob.text(344, 187.5, "易修改", 12.5, TC, "center")
clayers += ob.build()

collage = alt.layer(*clayers).resolve_scale(**RES).properties(
    width=627, height=288, view=alt.ViewBackground(fill="white", strokeWidth=0))

rows = []
for i in range(11):
    rows.append(alt.hconcat(slide_chart(SLIDES[2 * i], True), slide_chart(SLIDES[2 * i + 1], False),
                            spacing=7, bounds="flush"))

chart = alt.vconcat(collage, *rows, spacing=5).properties(
    padding=0, background="white"
).configure_view(fill=BG, strokeWidth=0)

chart.save("out.html", embed_options={"renderer": "svg", "actions": False})
